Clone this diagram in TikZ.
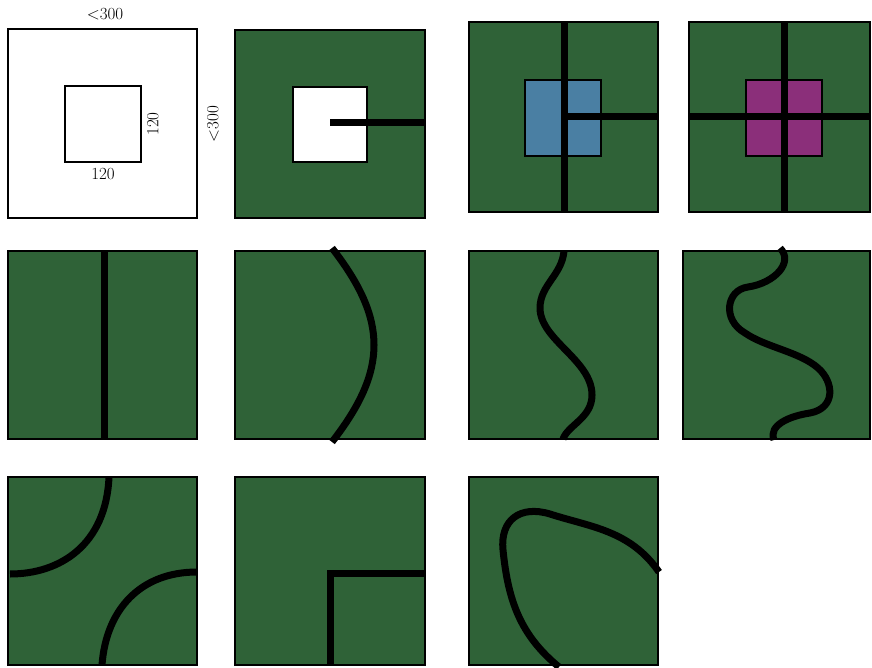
\documentclass[tikz,border=0pt]{standalone}
\begin{document}
\begin{tikzpicture}[x=1pt,y=-1pt,
  panel/.style={draw=black,line width=1.2pt,fill=pgreen},
  plain/.style={draw=black,line width=1.2pt,fill=white},
  wall/.style={draw=black,line width=7pt},
  curvewall/.style={draw=black,line width=7pt,line cap=butt,line join=round},
  lbl/.style={font=\fontsize{17}{20}\selectfont,inner sep=0pt}]
\definecolor{pgreen}{RGB}{47,98,55}
\definecolor{pblue}{RGB}{74,127,163}
\definecolor{ppurple}{RGB}{139,47,122}
\useasboundingbox (0,0) rectangle (872,668);
% panel 1
\draw[plain] (8,29) rectangle (197,218);
\draw[plain] (65,86) rectangle (141,162);
\node[lbl] (t1) at (105,14) {<300};
\node[lbl] (t2) at (103,174) {120};
\node[lbl,rotate=90] (t3) at (153,124) {120};
\node[lbl,rotate=90] (t4) at (213,124) {<300};
% panel 2
\draw[panel] (235,30) rectangle (425,218);
\draw[plain] (293,87) rectangle (367,162);
\draw[wall] (330,123) -- (425,123);
% panel 3
\draw[panel] (469,22) rectangle (658,212);
\draw[draw=black,line width=1.2pt,fill=pblue] (525,80) rectangle (601,156);
\draw[wall] (564,22) -- (564,212);
\draw[wall] (564,117) -- (658,117);
% panel 4
\draw[panel] (689,22) rectangle (870,212);
\draw[draw=black,line width=1.2pt,fill=ppurple] (746,80) rectangle (822,156);
\draw[wall] (784,22) -- (784,212);
\draw[wall] (689,117) -- (870,117);
% row 2
\draw[panel] (8,251) rectangle (197,439);
\draw[wall] (104,251) -- (104,439);
\draw[panel] (235,251) rectangle (425,439);
\draw[curvewall] (332,248) .. controls (388,320) and (388,370) .. (332,442);
\draw[panel] (469,251) rectangle (658,439);
\draw[curvewall] (564,251) .. controls (562,275) and (540,285) .. (540,308)
  .. controls (540,340) and (592,360) .. (592,395)
  .. controls (592,418) and (568,425) .. (563,439);
\draw[panel] (683,251) rectangle (870,439);
\draw[curvewall] (780,248) .. controls (794,262) and (775,283) .. (748,287)
  .. controls (726,290) and (722,320) .. (745,333)
  .. controls (765,347) and (800,352) .. (818,368)
  .. controls (834,382) and (836,408) .. (810,413)
  .. controls (790,416) and (768,425) .. (774,440);
% row 3
\draw[panel] (8,477) rectangle (197,665);
\draw[curvewall] (109,477) .. controls (106,545) and (60,574) .. (10,574);
\draw[curvewall] (197,572) .. controls (140,572) and (106,610) .. (102,665);
\draw[panel] (235,477) rectangle (425,665);
\draw[wall,line cap=butt] (425,573) -- (330,573) -- (330,665);
\draw[panel] (469,477) rectangle (658,665);
\draw[curvewall] (659,572) .. controls (630,530) and (590,527) .. (550,514)
  .. controls (520,505) and (500,520) .. (503,550)
  .. controls (508,600) and (520,635) .. (559,667);
\end{tikzpicture}
\end{document}
